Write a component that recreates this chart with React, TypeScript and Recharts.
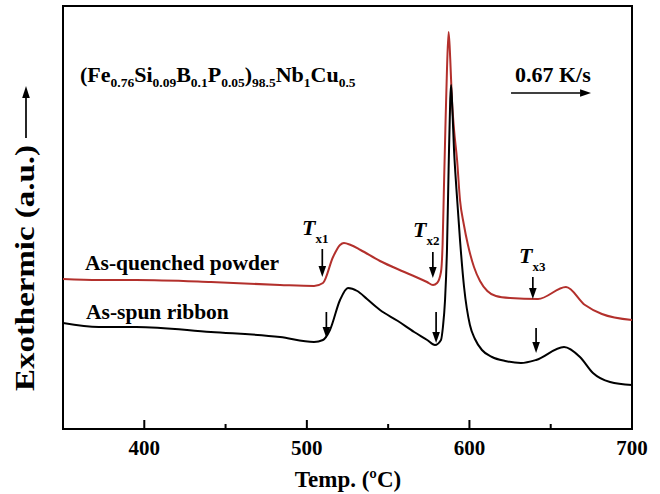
import { LineChart, Line, XAxis, YAxis, ReferenceArea, ReferenceLine } from 'recharts';

const FONT = '"Liberation Serif", "Times New Roman", serif';
const RED = '#b3302c';

// As-quenched powder (temperature in ºC, signal in arbitrary units)
const powderTemp = [
  350, 372, 395, 441, 483.5, 504.4, 509.9, 516.1, 520.4, 522.8, 527, 533, 545, 560, 573.9, 577.6,
  580.1, 582.5, 583.5, 584.3, 585.2, 586.2, 587.2, 588.2, 589.2, 590.5, 592.4, 594.2, 596.5,
  599.1, 602.8, 606.5, 611, 616.3, 625, 642.2, 659.4, 671.1, 681.5, 700,
];
const powderSignal = [
  150, 149, 149, 147, 144, 143, 146, 172, 184, 186, 184, 179, 168, 157, 147, 144,
  146, 157, 185, 240, 300, 360, 397, 370, 330, 300, 269, 229, 205,
  184, 162, 148, 138, 133, 131, 130, 142, 124, 115, 109,
];

// As-spun ribbon
const ribbonTemp = [
  350, 372, 395, 441, 483.5, 504.4, 509.9, 514.2, 520.4, 525.3, 531, 537, 545, 556, 566, 574, 578.8,
  582.5, 583.7, 585, 586.2, 587.2, 588.2, 588.7, 589.5, 590.5, 592, 594.2, 596.7, 600.3, 603.4,
  607.7, 613.9, 622, 631.7, 641, 658.2, 668, 676, 686.5, 700,
];
const ribbonSignal = [
  106, 102, 102, 97, 92, 87, 89, 99, 129, 141, 138, 130, 119, 108, 97, 89, 84,
  89, 102, 129, 180, 260, 330, 344, 320, 280, 240, 189, 142, 104, 90,
  79, 72, 68, 66, 69, 82, 72, 56, 47, 44,
];

const tempTicks = [350, 400, 450, 500, 550, 600, 650, 700];

// onset markers: temperature, arrow start / end signal
const onsetArrows = [
  { temp: 509.5, from: 180, to: 152 },
  { temp: 512, from: 117, to: 91 },
  { temp: 577.5, from: 177, to: 151 },
  { temp: 579.5, from: 117, to: 86 },
  { temp: 639, from: 152, to: 130 },
  { temp: 641, from: 101, to: 76 },
];
const rateArrow = { from: 625.6, to: 674.8, signal: 336 };

const powderData = powderTemp.map((t, i) => ({ temp: t, signal: powderSignal[i] }));
const ribbonData = ribbonTemp.map((t, i) => ({ temp: t, signal: ribbonSignal[i] }));

const Arrow = (p: any) => {
  const { x1, y1, x2, y2 } = p;
  const dx = x2 - x1;
  const dy = y2 - y1;
  const len = Math.hypot(dx, dy) || 1;
  const ux = dx / len;
  const uy = dy / len;
  const hl = 11;
  const hw = 3.8;
  const bx = x2 - ux * hl;
  const by = y2 - uy * hl;
  return (
    <g>
      <line x1={x1} y1={y1} x2={bx} y2={by} stroke="#000" strokeWidth={1.7} />
      <polygon
        points={`${x2},${y2} ${bx - uy * hw},${by + ux * hw} ${bx + uy * hw},${by - ux * hw}`}
        fill="#000"
      />
    </g>
  );
};

const TempTick = (props: any) => {
  const { x, y, payload } = props;
  const v = payload.value;
  const major = v % 100 === 0;
  return (
    <g>
      {v > 350 && v < 700 && (
        <line x1={x} x2={x} y1={y} y2={y - (major ? 9 : 5)} stroke="#000" strokeWidth={2} />
      )}
      {major && v > 350 && (
        <text x={x} y={y + 26} textAnchor="middle" fontFamily={FONT} fontWeight="bold" fontSize={21} fill="#000">
          {v}
        </text>
      )}
    </g>
  );
};

const txtStyle = { fontFamily: FONT, fontWeight: 'bold' as const, fill: '#000' };

export default function App() {
  return (
    <div style={{ position: 'absolute', left: 0, top: 0, width: 660, height: 494, background: '#fff' }}>
      <LineChart width={660} height={494} margin={{ top: 6, right: 28, left: 63, bottom: 0 }}>
        <XAxis
          dataKey="temp"
          type="number"
          domain={[350, 700]}
          allowDataOverflow
          ticks={tempTicks}
          interval={0}
          tickSize={0}
          tickMargin={0}
          tickLine={false}
          tick={<TempTick />}
          axisLine={{ stroke: '#000', strokeWidth: 2 }}
          height={65}
        />
        <YAxis type="number" domain={[0, 423]} allowDataOverflow hide width={0} />
        <ReferenceArea x1={350} x2={700} y1={0} y2={423} fill="none" stroke="#000" strokeWidth={2} />
        <Line
          data={powderData}
          dataKey="signal"
          type="monotone"
          stroke={RED}
          strokeWidth={2}
          dot={false}
          isAnimationActive={false}
        />
        <Line
          data={ribbonData}
          dataKey="signal"
          type="monotone"
          stroke="#000"
          strokeWidth={2}
          dot={false}
          isAnimationActive={false}
        />
        {onsetArrows.map((a, i) => (
          <ReferenceLine
            key={i}
            segment={[{ x: a.temp, y: a.from }, { x: a.temp, y: a.to }]}
            shape={Arrow}
          />
        ))}
        <ReferenceLine
          segment={[{ x: rateArrow.from, y: rateArrow.signal }, { x: rateArrow.to, y: rateArrow.signal }]}
          shape={Arrow}
        />
      </LineChart>
      <svg width={660} height={494} style={{ position: 'absolute', left: 0, top: 0, pointerEvents: 'none' }}>
        <text x={80} y={82} fontSize={22} {...txtStyle}>
          (Fe<tspan dy={5} fontSize={13.5}>0.76</tspan>
          <tspan dy={-5}>Si</tspan><tspan dy={5} fontSize={13.5}>0.09</tspan>
          <tspan dy={-5}>B</tspan><tspan dy={5} fontSize={13.5}>0.1</tspan>
          <tspan dy={-5}>P</tspan><tspan dy={5} fontSize={13.5}>0.05</tspan>
          <tspan dy={-5}>)</tspan><tspan dy={5} fontSize={13.5}>98.5</tspan>
          <tspan dy={-5}>Nb</tspan><tspan dy={5} fontSize={13.5}>1</tspan>
          <tspan dy={-5}>Cu</tspan><tspan dy={5} fontSize={13.5}>0.5</tspan>
        </text>
        <text x={515} y={82} fontSize={22} {...txtStyle}>0.67 K/s</text>
        <text x={85} y={270} fontSize={21.5} {...txtStyle}>As-quenched powder</text>
        <text x={86} y={319} fontSize={21.5} {...txtStyle}>As-spun ribbon</text>
        <text x={302} y={235} fontSize={22} fontStyle="italic" {...txtStyle}>
          T<tspan dy={8} fontSize={13} fontStyle="normal">x1</tspan>
        </text>
        <text x={413} y={237} fontSize={22} fontStyle="italic" {...txtStyle}>
          T<tspan dy={8} fontSize={13} fontStyle="normal">x2</tspan>
        </text>
        <text x={519} y={263} fontSize={22} fontStyle="italic" {...txtStyle}>
          T<tspan dy={8} fontSize={13} fontStyle="normal">x3</tspan>
        </text>
        <text x={348} y={487} textAnchor="middle" fontSize={23} {...txtStyle}>Temp. (ºC)</text>
        <text
          transform="rotate(-90)"
          x={-268}
          y={34}
          textAnchor="middle"
          fontSize={27}
          textLength={246}
          lengthAdjust="spacingAndGlyphs"
          {...txtStyle}
        >
          Exothermic (a.u.)
        </text>
        <line x1={26} y1={138} x2={26} y2={97} stroke="#000" strokeWidth={1.7} />
        <polygon points="26,86 22.2,98 29.8,98" fill="#000" />
      </svg>
    </div>
  );
}
